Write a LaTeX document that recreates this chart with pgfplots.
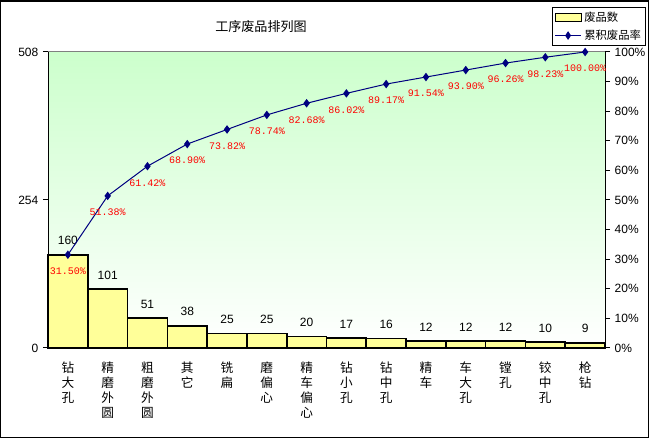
\documentclass[border=0pt]{standalone}
\usepackage{pgfplots}
\pgfplotsset{compat=1.18}
\usepackage{fontspec}
\setmainfont{Liberation Sans}
\newfontfamily\cjk{Noto Sans CJK SC}
\newfontfamily\mono{Liberation Mono}
\definecolor{barfill}{RGB}{255,255,153}
\definecolor{navyline}{RGB}{0,0,128}
\definecolor{bgtop}{RGB}{204,255,204}
\pgfplotsset{/pgf/number format/assume math mode=true}
\begin{document}
\begin{tikzpicture}
\useasboundingbox (0,0) rectangle (487.5pt,329.25pt);
\fill[white] (0,0) rectangle (487.5pt,329.25pt);
\draw[black,line width=1pt] (0.6pt,0.9pt) rectangle (486.5pt,328.6pt);
\node[font=\cjk\fontsize{9.8}{11}\selectfont] at (195.75pt,309.2pt) {工序废品排列图};
\begin{axis}[
  at={(36pt,68.25pt)}, anchor=south west,
  scale only axis, width=417.75pt, height=222pt,
  xmin=-0.5, xmax=13.5, ymin=0, ymax=508,
  axis x line*=bottom, axis y line*=left,
  axis line style={black, line width=0.75pt},
  axis background/.style={top color=bgtop, bottom color=white},
  ytick={0,254,508},
  xtick={0,...,13},
  xticklabels={{钻\\大\\孔},{精\\磨\\外\\圆},{粗\\磨\\外\\圆},{其\\它},{铣\\扁},{磨\\偏\\心},{精\\车\\偏\\心},{钻\\小\\孔},{钻\\中\\孔},{精\\车},{车\\大\\孔},{镗\\孔},{铰\\中\\孔},{枪\\钻}},
  x tick label style={font=\cjk\fontsize{9.5}{11.4}\selectfont, align=center, anchor=north, yshift=-3pt},
  major x tick style={draw=none},
  tick align=outside, major tick length=3.75pt,
  tick style={black, line width=0.75pt},
  y tick label style={font=\fontsize{9}{10}\selectfont},
  ybar, bar width=1,
  nodes near coords,
  every node near coord/.append style={font=\fontsize{9}{10}\selectfont, anchor=center, yshift=10.5pt},
  clip=false,
]
\addplot[fill=barfill, draw=black, line width=1.2pt] coordinates {
 (0,160) (1,101) (2,51) (3,38) (4,25) (5,25) (6,20) (7,17) (8,16) (9,12) (10,12) (11,12) (12,10) (13,9)};
\draw[gray, line width=0.75pt] (rel axis cs:0,1) -- (rel axis cs:1,1);
\end{axis}
\begin{axis}[
  at={(36pt,68.25pt)}, anchor=south west,
  scale only axis, width=417.75pt, height=222pt,
  xmin=-0.5, xmax=13.5, ymin=0, ymax=100,
  axis x line=none, axis y line*=right,
  ytick={0,10,...,100},
  yticklabel={\pgfmathprintnumber{\tick}\%},
  y tick label style={font=\fontsize{9}{10}\selectfont},
  tick align=outside, major tick length=3.75pt,
  tick style={black, line width=0.75pt},
  axis line style={black, line width=0.75pt},
  legend style={at={(0.905,1.152)}, anchor=north west, draw=black, line width=0.75pt,
    font=\cjk\fontsize{8.5}{9}\selectfont, cells={anchor=west}, inner sep=1.5pt, row sep=0.5pt},
  clip=false,
]
\addlegendimage{legend image code/.code={\draw[fill=barfill,draw=black,line width=0.75pt] (0pt,-3pt) rectangle (19.5pt,3pt);}}
\addlegendentry{废品数}
\addplot[navyline, line width=0.75pt, mark=diamond*, mark size=2.6pt, mark options={fill=navyline},
  legend image code/.code={\draw[navyline, line width=0.75pt] (0pt,0pt) -- (19.5pt,0pt); \draw[navyline,fill=navyline] (9.75pt,2.6pt) -- (11.5pt,0pt) -- (9.75pt,-2.6pt) -- (8pt,0pt) -- cycle;},
  point meta=y,
  nodes near coords={\pgfmathprintnumber[fixed,fixed zerofill,precision=2]{\pgfplotspointmeta}\%},
  every node near coord/.append style={font=\mono\fontsize{7.5}{8}\selectfont, text=red, anchor=center, yshift=-12.4pt}]
 coordinates {(0,31.50) (1,51.38) (2,61.42) (3,68.90) (4,73.82) (5,78.74) (6,82.68) (7,86.02) (8,89.17) (9,91.54) (10,93.90) (11,96.26) (12,98.23) (13,100.00)};
\addlegendentry{累积废品率}
\end{axis}
\end{tikzpicture}
\end{document}
